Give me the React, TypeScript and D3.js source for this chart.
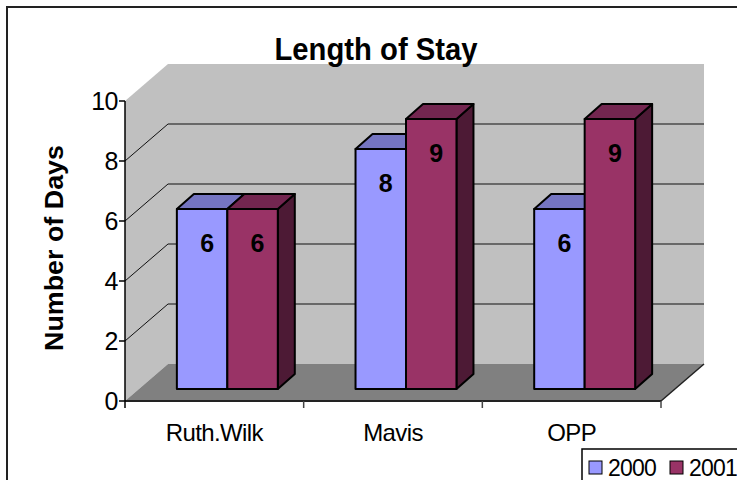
import React from 'react'
import * as d3 from 'd3'

const categories = ['Ruth.Wilk', 'Mavis', 'OPP']
const seriesNames = ['2000', '2001']
const values2000 = [6, 8, 6]
const values2001 = [6, 9, 9]
const yTicks = [0, 2, 4, 6, 8, 10]

const W = 737
const H = 480
const font = "'Liberation Sans', Arial, sans-serif"

// 3D offsets (px): back wall, bar front plane, bar depth
const BACK = { dx: 43, dy: -37 }
const BAR_OFF = { dx: 13, dy: -12 }
const BAR_DEPTH = { dx: 17, dy: -15 }

const colors = {
  '2000': { front: '#9999FF', top: '#7575C2', side: '#5C5CA0' },
  '2001': { front: '#993366', top: '#732650', side: '#4D1A35' },
}

const pts = (p: Array<[number, number]>) => p.map((d) => d.join(',')).join(' ')

const App: React.FC = () => {
  const x = d3.scaleBand<string>().domain(categories).range([125, 661])
  const y = d3.scaleLinear().domain([0, 10]).range([401, 101])
  const inner = d3
    .scaleBand<string>()
    .domain(seriesNames)
    .range([0, x.bandwidth()])
    .paddingInner(0)
    .paddingOuter(0.77)

  const x0 = x.range()[0]
  const x1 = x.range()[1]
  const yTop = y(10)
  const yBot = y(0)

  const bars = categories.flatMap((c, i) =>
    seriesNames.map((s) => ({
      cat: c,
      series: s,
      value: s === '2000' ? values2000[i] : values2001[i],
    })),
  )

  return (
    <svg
      width={W}
      height={H}
      style={{ position: 'absolute', left: 0, top: 0, background: '#fff' }}
      fontFamily={font}
    >
      {/* outer chart border */}
      <path d={`M7,${H + 5} V7 H${W + 5}`} fill="none" stroke="#222" strokeWidth={2} />

      {/* side wall */}
      <polygon
        points={pts([
          [x0, yTop],
          [x0 + BACK.dx, yTop + BACK.dy],
          [x0 + BACK.dx, yBot + BACK.dy],
          [x0, yBot],
        ])}
        fill="#C0C0C0"
      />
      {/* back wall */}
      <rect
        x={x0 + BACK.dx}
        y={yTop + BACK.dy}
        width={x1 - x0}
        height={yBot - yTop}
        fill="#C0C0C0"
      />
      {/* floor */}
      <polygon
        points={pts([
          [x0, yBot],
          [x0 + BACK.dx, yBot + BACK.dy],
          [x1 + BACK.dx, yBot + BACK.dy],
          [x1, yBot],
        ])}
        fill="#808080"
      />

      {/* gridlines */}
      {yTicks
        .filter((t) => t > 0 && t < 10)
        .map((t) => (
          <g key={t} stroke="#111" strokeWidth={1}>
            <line x1={x0} y1={y(t)} x2={x0 + BACK.dx} y2={y(t) + BACK.dy} />
            <line x1={x0 + BACK.dx} y1={y(t) + BACK.dy} x2={x1 + BACK.dx} y2={y(t) + BACK.dy} />
          </g>
        ))}

      {/* floor edges */}
      <line x1={x0} y1={yBot} x2={x1} y2={yBot} stroke="#222" strokeWidth={2} />
      <line x1={x1} y1={yBot} x2={x1 + BACK.dx} y2={yBot + BACK.dy} stroke="#222" strokeWidth={1.5} />

      {/* y axis */}
      <line x1={x0} y1={yTop} x2={x0} y2={yBot + 7} stroke="#000" strokeWidth={1.5} />
      {yTicks.map((t) => (
        <g key={t}>
          <line x1={x0 - 6} y1={y(t)} x2={x0} y2={y(t)} stroke="#000" strokeWidth={1.5} />
          <text x={x0 - 7} y={y(t) + 9} textAnchor="end" fontSize={25} letterSpacing={-0.5}>
            {t}
          </text>
        </g>
      ))}

      {/* category ticks and labels */}
      {categories.map((c) => (
        <g key={c}>
          <line
            x1={(x(c) as number) + x.bandwidth()}
            y1={yBot}
            x2={(x(c) as number) + x.bandwidth()}
            y2={yBot + 7}
            stroke="#444"
            strokeWidth={1.5}
          />
          <text
            x={(x(c) as number) + x.bandwidth() / 2}
            y={441}
            textAnchor="middle"
            fontSize={24}
            letterSpacing={-0.6}
          >
            {c}
          </text>
        </g>
      ))}

      {/* bars */}
      {bars.map((b) => {
        const bx = (x(b.cat) as number) + (inner(b.series) as number) + BAR_OFF.dx
        const bw = inner.bandwidth()
        const top = y(b.value) + BAR_OFF.dy
        const bot = y(0) + BAR_OFF.dy
        const col = colors[b.series as '2000' | '2001']
        const { dx, dy } = BAR_DEPTH
        return (
          <g key={b.cat + b.series} stroke="#000" strokeWidth={2} strokeLinejoin="round">
            <polygon
              points={pts([
                [bx + bw, top],
                [bx + bw + dx, top + dy],
                [bx + bw + dx, bot + dy],
                [bx + bw, bot],
              ])}
              fill={col.side}
            />
            <polygon
              points={pts([
                [bx, top],
                [bx + dx, top + dy],
                [bx + bw + dx, top + dy],
                [bx + bw, top],
              ])}
              fill={col.top}
            />
            <rect x={bx} y={top} width={bw} height={bot - top} fill={col.front} />
          </g>
        )
      })}

      {/* value labels */}
      {bars.map((b) => {
        const bx = (x(b.cat) as number) + (inner(b.series) as number) + BAR_OFF.dx
        return (
          <text
            key={'l' + b.cat + b.series}
            x={bx + inner.bandwidth() / 2 + 5}
            y={y(b.value) + BAR_OFF.dy + 43}
            textAnchor="middle"
            fontSize={25}
            fontWeight="bold"
          >
            {b.value}
          </text>
        )
      })}

      {/* title */}
      <text
        x={376}
        y={60}
        textAnchor="middle"
        fontSize={32}
        fontWeight="bold"
        textLength={203}
        lengthAdjust="spacingAndGlyphs"
      >
        Length of Stay
      </text>

      {/* y axis title */}
      <text
        transform="translate(63,248) rotate(-90)"
        textAnchor="middle"
        fontSize={25}
        fontWeight="bold"
        textLength={206}
        lengthAdjust="spacingAndGlyphs"
      >
        Number of Days
      </text>

      {/* legend */}
      <rect x={582} y={449} width={170} height={40} fill="#fff" stroke="#000" strokeWidth={1.5} />
      {seriesNames.map((s, i) => (
        <g key={s}>
          <rect
            x={589 + i * 81}
            y={461}
            width={13}
            height={13}
            fill={colors[s as '2000' | '2001'].front}
            stroke="#000"
            strokeWidth={1}
          />
          <text x={608 + i * 81} y={476} fontSize={23} letterSpacing={-0.8}>
            {s}
          </text>
        </g>
      ))}
    </svg>
  )
}

export default App
